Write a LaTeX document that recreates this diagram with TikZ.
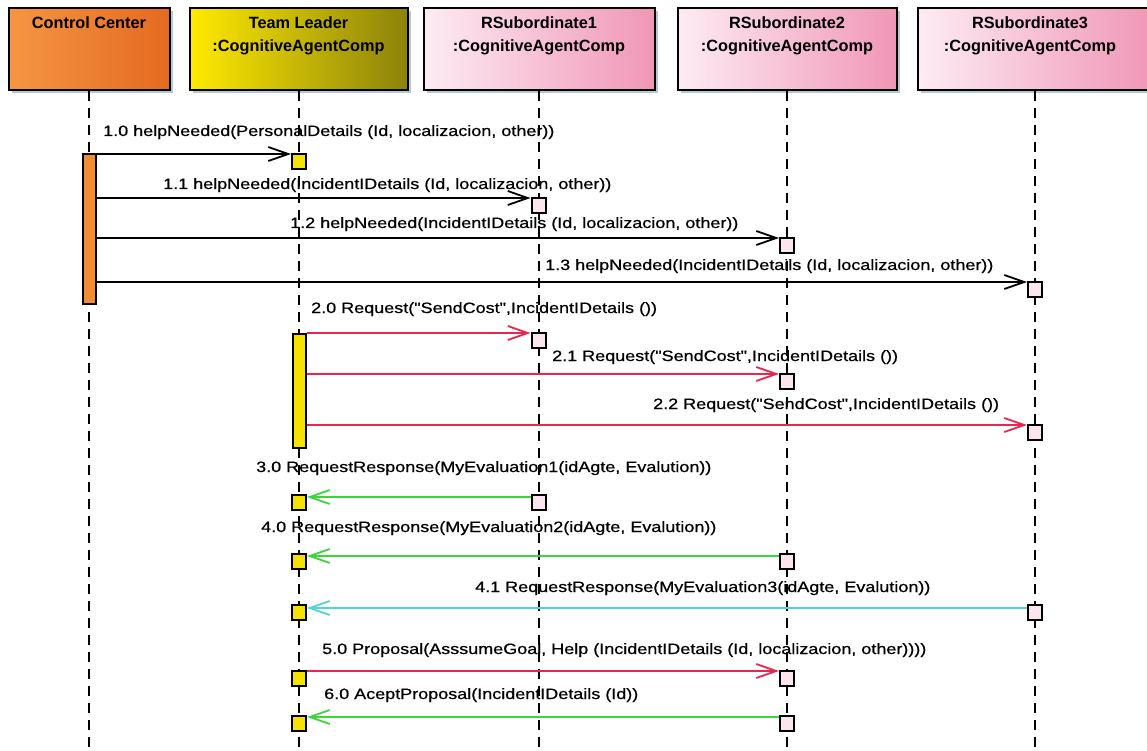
\documentclass[tikz,border=0pt]{standalone}
\usepackage{fontspec}
\setmainfont{Liberation Sans}
\newfontfamily\lblfont[FakeBold=0.6]{Liberation Sans}
\usetikzlibrary{arrows.meta,shadows}
\definecolor{ccL}{RGB}{245,150,68}
\definecolor{ccR}{RGB}{228,106,32}
\definecolor{tlL}{RGB}{255,234,0}
\definecolor{tlR}{RGB}{140,130,10}
\definecolor{rsL}{RGB}{253,236,244}
\definecolor{rsR}{RGB}{240,150,182}
\definecolor{ccbarc}{RGB}{242,140,50}
\definecolor{yelc}{RGB}{246,226,0}
\definecolor{pinkc}{RGB}{251,230,240}
\definecolor{redc}{RGB}{232,38,78}
\definecolor{grnc}{RGB}{62,212,62}
\definecolor{cyanc}{RGB}{84,212,214}
\definecolor{shadc}{RGB}{184,200,210}
\newcommand{\lbl}[1]{\scalebox{1.2}[1]{#1}}
\newcommand{\dq}{\textquotedbl}
\begin{document}
\begin{tikzpicture}[x=1pt,y=-1pt,
  hdr/.style={draw=black,line width=2pt,minimum height=82pt,inner sep=0pt,
    drop shadow={shadow xshift=3pt,shadow yshift=-3pt,fill=shadc,opacity=1}},
  htxt/.style={anchor=base,inner sep=0pt,font=\fontsize{16.3}{20}\selectfont\bfseries},
  life/.style={line width=2pt,dash pattern=on 10pt off 7pt},
  actbar/.style={draw=black,line width=2pt,minimum width=13pt,inner sep=0pt},
  ebox/.style={draw=black,line width=2pt,minimum width=14pt,minimum height=15pt,inner sep=0pt},
  yb/.style={ebox,fill=yelc},
  pb/.style={ebox,fill=pinkc},
  msg/.style={line width=1.8pt,-{Straight Barb[length=20pt,width=14pt,line width=1.8pt]}},
  mlbl/.style={anchor=base west,inner sep=0pt,font=\lblfont\fontsize{15}{18}\selectfont}
]
\useasboundingbox (0,0) rectangle (1147,751);
\fill[white] (0,0) rectangle (1147,751);
\clip (0,0) rectangle (1147,751);
\coordinate (bot) at (0,760);

% header boxes
\node[hdr,left color=ccL,right color=ccR,minimum width=161pt] (cc) at (89,49) {};
\node[hdr,left color=tlL,middle color=tlL!97!tlR,right color=tlR,minimum width=218pt] (tl) at (298.5,49) {};
\node[hdr,left color=rsL,right color=rsR,minimum width=231pt] (r1) at (539,49) {};
\node[hdr,left color=rsL,right color=rsR,minimum width=219pt] (r2) at (787,49) {};
\node[hdr,left color=rsL,right color=rsR,minimum width=234pt] (r3) at (1035,49) {};

\node[htxt] (cct) at (89,29) {Control Center};
\node[htxt] (tlt1) at (298.5,29) {Team Leader};
\node[htxt] (tlt2) at (298.5,52) {:CognitiveAgentComp};
\node[htxt] (r1t1) at (539,29) {RSubordinate1};
\node[htxt] (r1t2) at (539,52) {:CognitiveAgentComp};
\node[htxt] (r2t1) at (787,29) {RSubordinate2};
\node[htxt] (r2t2) at (787,52) {:CognitiveAgentComp};
\node[htxt] (r3t1) at (1030,29) {RSubordinate3};
\node[htxt] (r3t2) at (1030,52) {:CognitiveAgentComp};

% lifelines
\draw[life] (cc.south) -- (cc.south |- bot);
\draw[life] (tl.south) -- (tl.south |- bot);
\draw[life] (r1.south) -- (r1.south |- bot);
\draw[life] (r2.south) -- (r2.south |- bot);
\draw[life] (r3.south) -- (r3.south |- bot);

% activation bars
\node[actbar,fill=ccbarc,minimum height=150pt] (ccbar) at (89.5,229) {};
\node[actbar,fill=yelc,minimum height=114pt] (tlbar) at (299,391) {};

% execution boxes
\node[yb] (t10) at (299,161.5) {};
\node[pb] (r11) at (538.5,205.5) {};
\node[pb] (r12) at (787,245.5) {};
\node[pb] (r13) at (1035,289.5) {};
\node[pb] (r20) at (538.5,340.5) {};
\node[pb] (r21) at (787,381.5) {};
\node[pb] (r22) at (1035,432.5) {};
\node[yb] (t30) at (299,502.5) {};
\node[pb] (r30) at (538.5,502.5) {};
\node[yb] (t40) at (299,561.5) {};
\node[pb] (r40) at (787,561.5) {};
\node[yb] (t41) at (299,612.5) {};
\node[pb] (r41) at (1035,612.5) {};
\node[yb] (t50) at (299,678.5) {};
\node[pb] (r50) at (787,678.5) {};
\node[yb] (t60) at (299,723.5) {};
\node[pb] (r60) at (787,723.5) {};

% message end points
\coordinate (m10) at ([yshift=-1pt]t10.north west);
\coordinate (m11) at ([yshift=-1pt]r11.north west);
\coordinate (m12) at ([yshift=-1pt]r12.north west);
\coordinate (m13) at ([yshift=-1pt]r13.north west);
\coordinate (m20) at ([yshift=-1pt]r20.north west);
\coordinate (m21) at ([yshift=-1pt]r21.north west);
\coordinate (m22) at ([yshift=-1pt]r22.north west);
\coordinate (m30a) at ([yshift=-3pt]r30.north west);
\coordinate (m30b) at ([yshift=-3pt]t30.north east);
\coordinate (m40a) at ([yshift=-3pt]r40.north west);
\coordinate (m40b) at ([yshift=-3pt]t40.north east);
\coordinate (m41a) at ([yshift=-4pt]r41.north west);
\coordinate (m41b) at ([yshift=-4pt]t41.north east);
\coordinate (m50a) at ([yshift=-1pt]t50.north east);
\coordinate (m50b) at ([yshift=-1pt]r50.north west);
\coordinate (m60a) at ([yshift=-2pt]r60.north west);
\coordinate (m60b) at ([yshift=-2pt]t60.north east);

% messages
\draw[msg] (ccbar.east |- m10) -- (m10);
\draw[msg] (ccbar.east |- m11) -- (m11);
\draw[msg] (ccbar.east |- m12) -- (m12);
\draw[msg] (ccbar.east |- m13) -- (m13);
\draw[msg,redc] (tlbar.east |- m20) -- (m20);
\draw[msg,redc] (tlbar.east |- m21) -- (m21);
\draw[msg,redc] (tlbar.east |- m22) -- (m22);
\draw[msg,grnc] (m30a) -- (m30b);
\draw[msg,grnc] (m40a) -- (m40b);
\draw[msg,cyanc] (m41a) -- (m41b);
\draw[msg,redc] (m50a) -- (m50b);
\draw[msg,grnc] (m60a) -- (m60b);

% labels
\node[mlbl] (l10) at (103,136) {\lbl{1.0 helpNeeded(PersonalDetails (Id, localizacion, other))}};
\node[mlbl] (l11) at (163,189) {\lbl{1.1 helpNeeded(IncidentIDetails (Id, localizacion, other))}};
\node[mlbl] (l12) at (290,228) {\lbl{1.2 helpNeeded(IncidentIDetails (Id, localizacion, other))}};
\node[mlbl] (l13) at (545,270) {\lbl{1.3 helpNeeded(IncidentIDetails (Id, localizacion, other))}};
\node[mlbl] (l20) at (311,313) {\lbl{2.0 Request(\dq SendCost\dq,IncidentIDetails ())}};
\node[mlbl] (l21) at (552,361) {\lbl{2.1 Request(\dq SendCost\dq,IncidentIDetails ())}};
\node[mlbl] (l22) at (653,409) {\lbl{2.2 Request(\dq SendCost\dq,IncidentIDetails ())}};
\node[mlbl] (l30) at (256,472) {\lbl{3.0 RequestResponse(MyEvaluation1(idAgte, Evalution))}};
\node[mlbl] (l40) at (261,532) {\lbl{4.0 RequestResponse(MyEvaluation2(idAgte, Evalution))}};
\node[mlbl] (l41) at (475,592) {\lbl{4.1 RequestResponse(MyEvaluation3(idAgte, Evalution))}};
\node[mlbl] (l50) at (322,654) {\lbl{5.0 Proposal(AsssumeGoal, Help (IncidentIDetails (Id, localizacion, other))))}};
\node[mlbl] (l60) at (324,699) {\lbl{6.0 AceptProposal(IncidentIDetails (Id))}};
\end{tikzpicture}
\end{document}
